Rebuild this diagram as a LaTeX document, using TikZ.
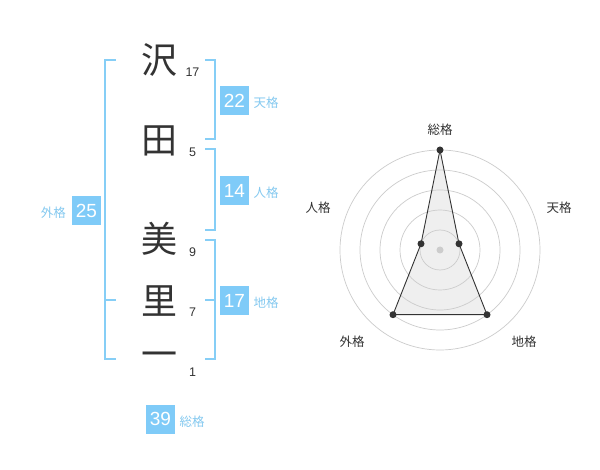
\documentclass[tikz,border=0pt]{standalone}
\usepackage{fontspec}
\setmainfont{Liberation Sans}
\newfontfamily\jp{Noto Sans CJK JP}
\definecolor{boxblue}{HTML}{7FCBF8}
\definecolor{brblue}{HTML}{86CEF6}
\definecolor{lblblue}{HTML}{84C9F0}
\definecolor{ink}{HTML}{333333}
\definecolor{ring}{HTML}{CCCCCC}
\tikzset{
  kanji/.style={font=\jp\fontsize{36}{36}\selectfont, text=ink, inner sep=0},
  stroke/.style={font=\fontsize{12.5}{12.5}\selectfont, text=ink, inner sep=0},
  valbox/.style={fill=boxblue, text=white, minimum size=29pt, inner sep=0, font=\fontsize{19}{19}\selectfont},
  kaku/.style={font=\jp\fontsize{12.5}{12.5}\selectfont, text=lblblue, inner sep=0},
  bracket/.style={draw=brblue, line width=2pt},
  axislbl/.style={font=\jp\fontsize{12.5}{12.5}\selectfont, text=ink, inner sep=0},
  dot/.style={circle, fill=ink, inner sep=0, minimum size=7pt},
}
\begin{document}
\begin{tikzpicture}[x=1pt,y=-1pt]
\useasboundingbox[fill=white] (0,0) rectangle (600,470);
% kanji
\node[kanji] (k1) at (159,60) {沢};
\node[kanji] (k2) at (159,141) {田};
\node[kanji] (k3) at (159,239) {美};
\node[kanji] (k4) at (159,301) {里};
\node[kanji] (k5) at (159,360) {一};
% stroke counts
\node[stroke] (s1) at (192.5,72.5) {17};
\node[stroke] (s2) at (192.5,152.5) {5};
\node[stroke] (s3) at (192.5,252.5) {9};
\node[stroke] (s4) at (192.5,312.5) {7};
\node[stroke] (s5) at (192.5,372.5) {1};
% brackets
\draw[bracket] (115.5,60) -- (105,60) -- (105,359) -- (115.5,359);
\draw[bracket] (105,300) -- (115.5,300);
\draw[bracket] (205,60) -- (214.5,60) -- (214.5,139.5) -- (205,139.5);
\draw[bracket] (205,149.5) -- (214.5,149.5) -- (214.5,230) -- (205,230);
\draw[bracket] (205,240) -- (214.5,240) -- (214.5,359) -- (205,359);
\draw[bracket] (205,300) -- (214.5,300);
% value boxes
\node[valbox] (b1) at (234.5,100.5) {22};
\node[kaku, anchor=west] (l1) at (253.5,103) {天格};
\node[valbox] (b2) at (234.5,190.5) {14};
\node[kaku, anchor=west] (l2) at (253.5,193) {人格};
\node[valbox] (b3) at (234.5,300.5) {17};
\node[kaku, anchor=west] (l3) at (253.5,303) {地格};
\node[valbox] (b4) at (86.5,210.5) {25};
\node[kaku, anchor=east] (l4) at (66,213) {外格};
\node[valbox] (b5) at (160.5,419) {39};
\node[kaku, anchor=west] (l5) at (179.5,422) {総格};
% radar
\coordinate (c) at (440,250);
\coordinate (p1) at (440,150);
\coordinate (p2) at (459,243.8);
\coordinate (p3) at (487,314.7);
\coordinate (p4) at (393,314.7);
\coordinate (p5) at (421,243.8);
\fill[ink!8] (p1) -- (p2) -- (p3) -- (p4) -- (p5) -- cycle;
\foreach \r in {20,40,60,80,100} \draw[ring, line width=0.7pt] (c) circle[radius=\r];
\draw[ink, line width=0.9pt] (p1) -- (p2) -- (p3) -- (p4) -- (p5) -- cycle;
\node[circle, fill=ring, inner sep=0, minimum size=7pt] (cd) at (c) {};
\foreach \p in {p1,p2,p3,p4,p5} \node[dot] at (\p) {};
\node[axislbl] (a1) at (440,130) {総格};
\node[axislbl] (a2) at (559,208) {天格};
\node[axislbl] (a3) at (318,208) {人格};
\node[axislbl] (a4) at (352,342) {外格};
\node[axislbl] (a5) at (524,342) {地格};
\end{tikzpicture}
\end{document}
